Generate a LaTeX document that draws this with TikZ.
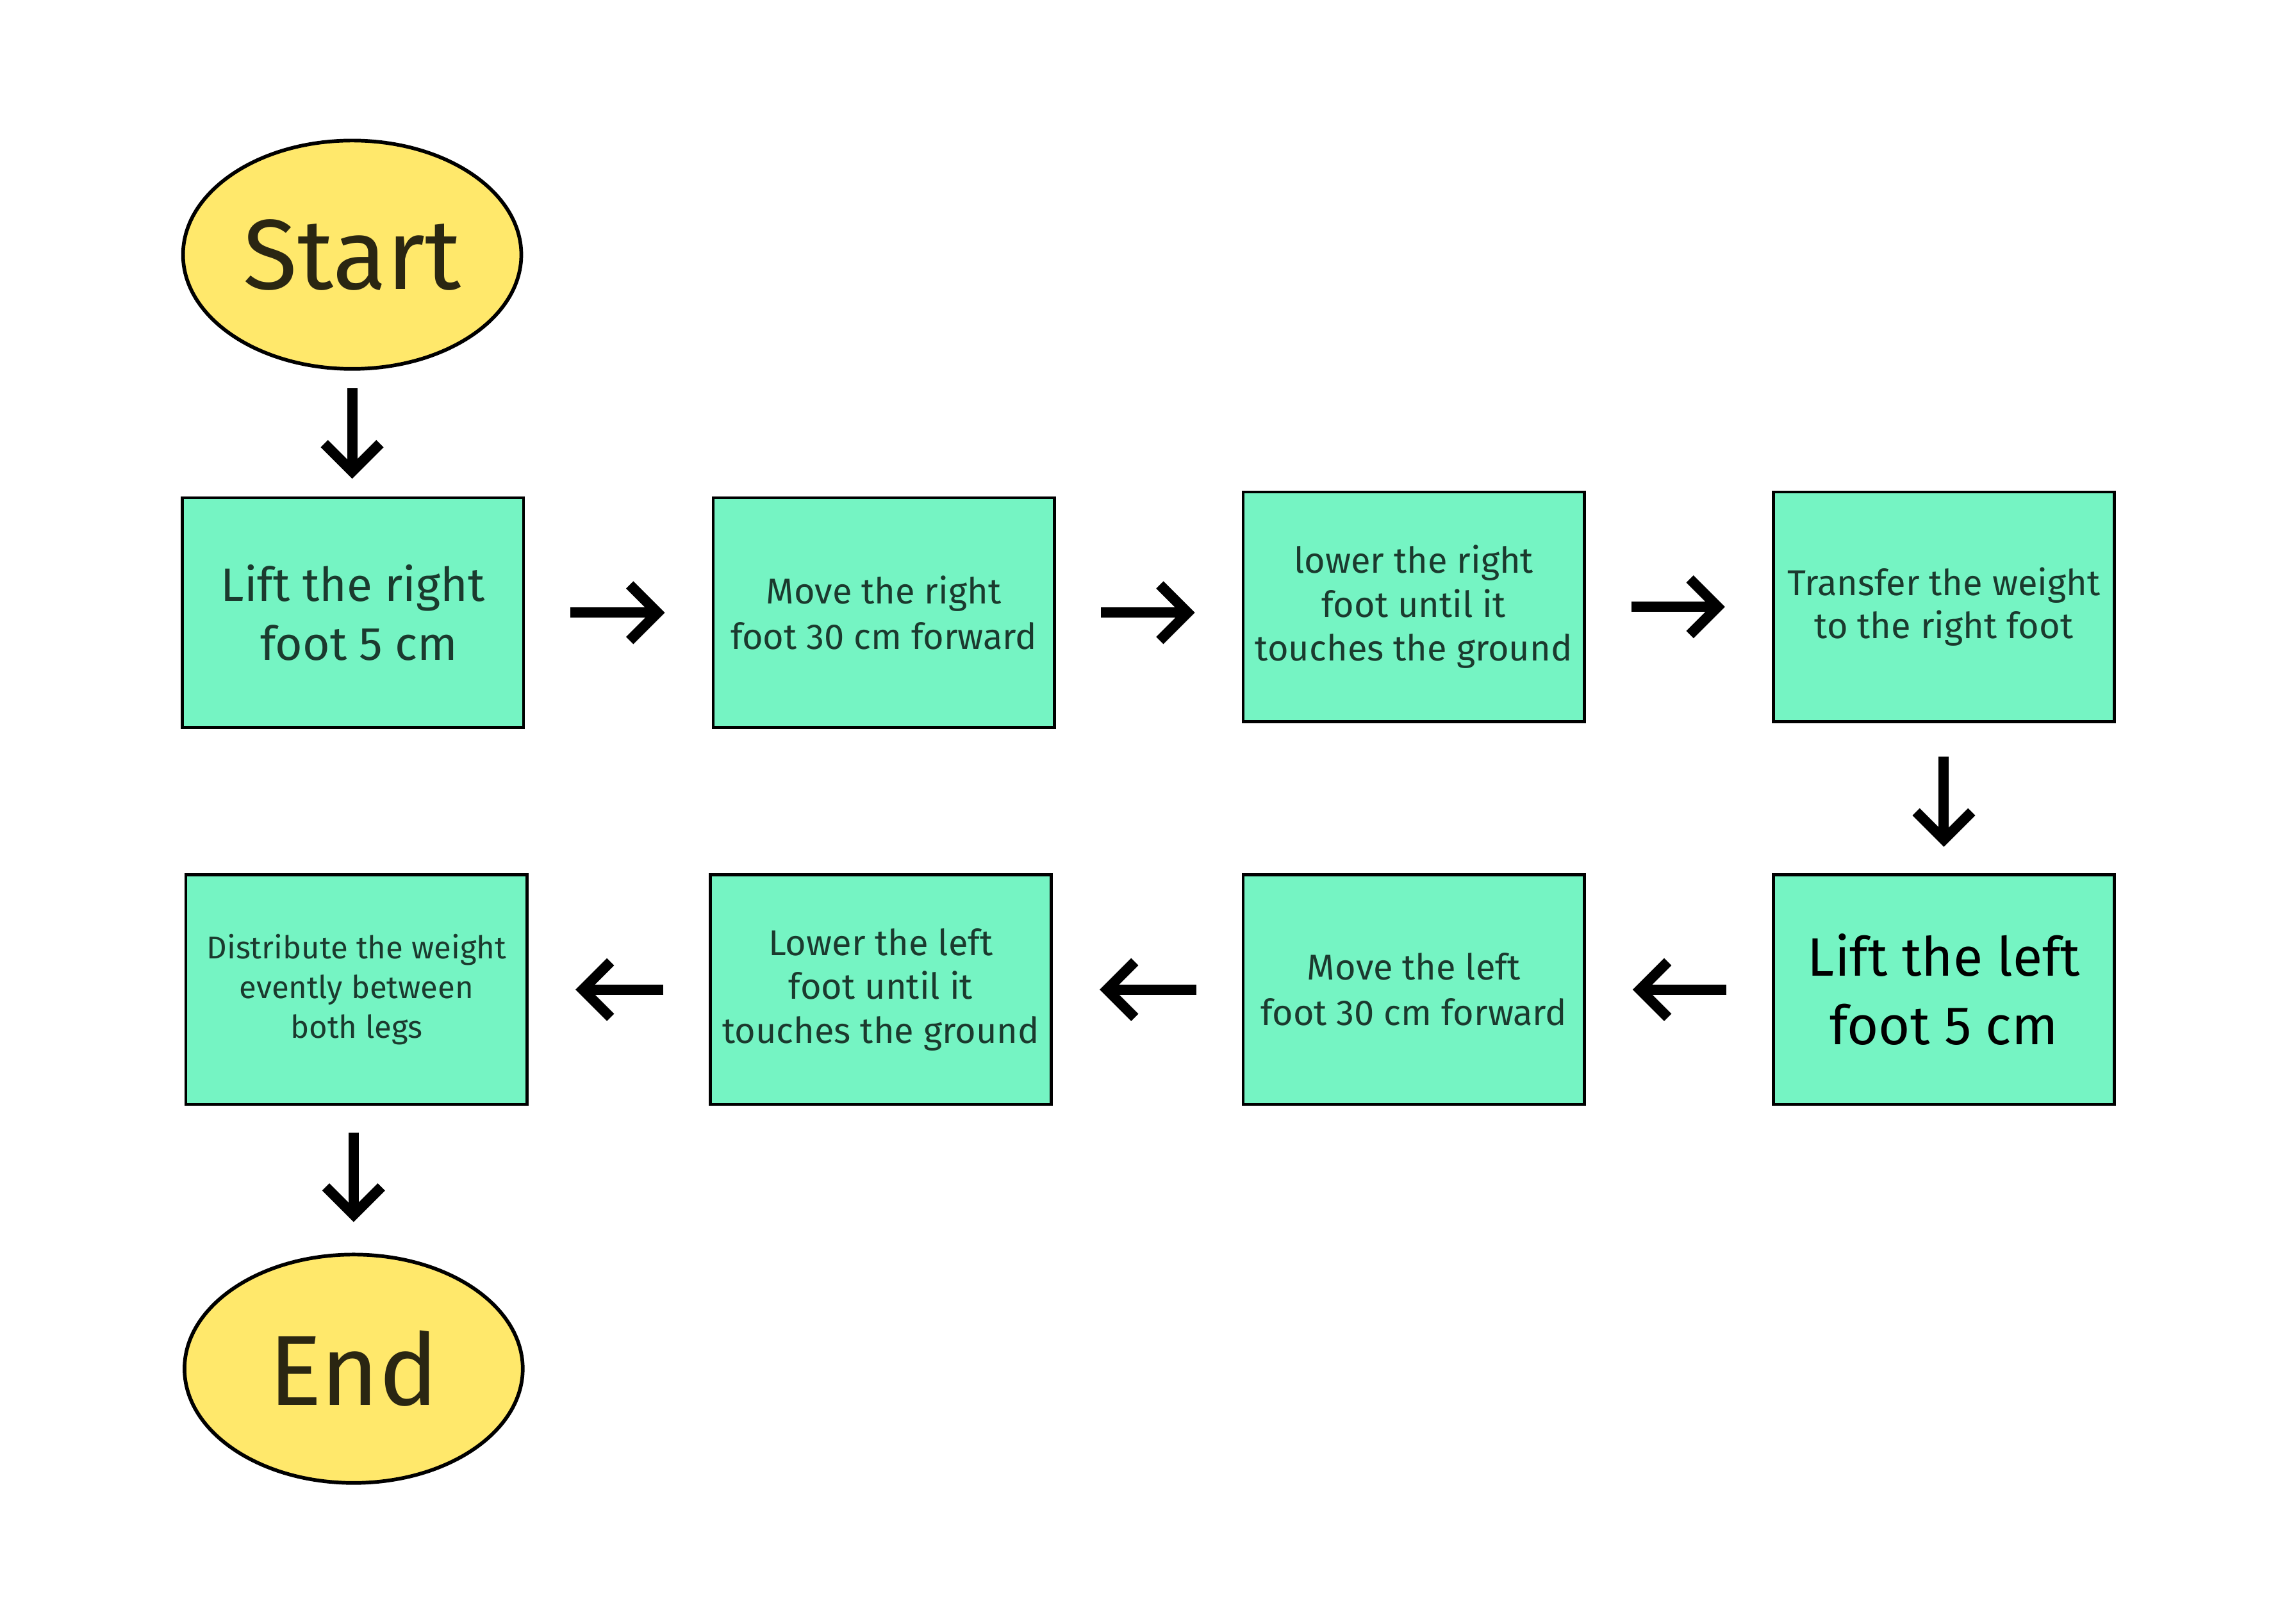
\documentclass[tikz,border=0pt]{standalone}
\usepackage{fontspec}
\setmainfont{Fira Sans}
\usetikzlibrary{shapes.geometric,arrows.meta,positioning}
\definecolor{termfill}{HTML}{FFE86B}
\definecolor{boxfill}{HTML}{75F4C3}
\definecolor{boxtext}{HTML}{1B3A2E}
\definecolor{termtext}{HTML}{2A2612}
\tikzset{
  term/.style={ellipse, draw=black, line width=2.5pt, fill=termfill, minimum width=231pt, minimum height=156pt, inner sep=0pt, text=termtext, font=\fontsize{68}{72}\selectfont},
  stepbox/.style={rectangle, draw=black, line width=2pt, fill=boxfill, minimum width=233pt, minimum height=157pt, inner sep=0pt, align=center, text=boxtext},
  arr/.style={line width=7pt, -{Straight Barb[length=19pt, width=38pt, line width=7pt]}},
}
\begin{document}
\begin{tikzpicture}[x=1pt,y=-1pt]
\useasboundingbox[fill=white] (0,0) rectangle (1568,1109);
\node[term] (start) at (240.5,174) {Start};
\node[stepbox, font=\fontsize{32}{40}\selectfont] (s1) at (241,418.5) {Lift the right\\\ foot 5 cm};
\node[stepbox, font=\fontsize{24.5}{31}\selectfont] (s2) at (603.5,418.5) {Move the right\\foot 30 cm forward};
\node[stepbox, font=\fontsize{24.5}{30}\selectfont] (s3) at (965.5,414.5) {lower the right\\foot until it\\touches the ground};
\node[stepbox, font=\fontsize{24.5}{29}\selectfont] (s4) at (1327.5,414.5) {Transfer the weight\\to the right foot};
\node[stepbox, font=\fontsize{37}{47}\selectfont, text=black] (s5) at (1327.5,676) {Lift the left\\foot 5 cm};
\node[stepbox, font=\fontsize{24.5}{31}\selectfont] (s6) at (965.5,676) {Move the left\\foot 30 cm forward};
\node[stepbox, font=\fontsize{24.5}{30}\selectfont] (s7) at (601.5,676) {Lower the left\\foot until it\\touches the ground};
\node[stepbox, font=\fontsize{21.5}{27}\selectfont] (s8) at (243.5,676) {Distribute the weight\\evently between\\both legs};
\node[term] (end) at (241.5,935) {End};

\draw[arr, shorten <=12pt, shorten >=12pt] (start.south) -- (start.south |- s1.north);
\draw[arr, shorten <=31pt, shorten >=32pt] (s1.east) -- (s1.east -| s2.west);
\draw[arr, shorten <=31pt, shorten >=32pt] (s2.east) -- (s2.east -| s3.west);
\draw[arr, shorten <=31pt, shorten >=32pt] (s3.east) -- (s3.east -| s4.west);
\draw[arr, shorten <=23pt, shorten >=18pt] (s4.south) -- (s4.south |- s5.north);
\draw[arr, shorten <=31pt, shorten >=32pt] (s5.west) -- (s5.west -| s6.east);
\draw[arr, shorten <=31pt, shorten >=32pt] (s6.west) -- (s6.west -| s7.east);
\draw[arr, shorten <=31pt, shorten >=32pt] (s7.west) -- (s7.west -| s8.east);
\draw[arr, shorten <=18pt, shorten >=21pt] (s8.south -| end.north) -- (end.north);
\end{tikzpicture}
\end{document}
